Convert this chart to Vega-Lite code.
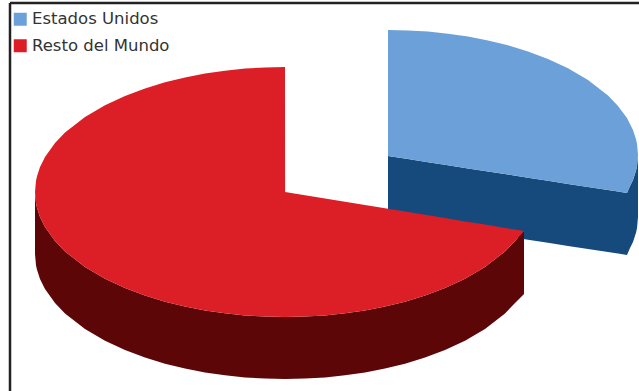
{
  "$schema": "https://vega.github.io/schema/vega-lite/v6.json",
  "width": 639,
  "height": 391,
  "autosize": {"type": "none"},
  "padding": 0,
  "background": "white",
  "view": {"stroke": null},
  "config": {"font": "DejaVu Sans"},
  "encoding": {
    "x": {"field": "x", "type": "quantitative", "axis": null, "scale": {"domain": [0, 639], "nice": false, "zero": false}},
    "y": {"field": "upper", "type": "quantitative", "axis": null, "scale": {"domain": [391, 0], "nice": false, "zero": false}},
    "y2": {"field": "lower"}
  },
  "layer": [
    {
      "name": "us_side",
      "mark": {"type": "area", "fill": "#174A7C"},
      "data": {"values": [
        {"x":388,"upper":156,"lower":218},{"x":408,"upper":159.1,"lower":221.1},{"x":428,"upper":162.2,"lower":224.2},{"x":448,"upper":165.3,"lower":227.3},{"x":468,"upper":168.4,"lower":230.4},{"x":488,"upper":171.5,"lower":233.5},{"x":508,"upper":174.6,"lower":236.6},{"x":528,"upper":177.7,"lower":239.7},{"x":548,"upper":180.8,"lower":242.8},{"x":568,"upper":183.9,"lower":245.9},{"x":588,"upper":187,"lower":249},{"x":608,"upper":190.1,"lower":252.1},{"x":618,"upper":191.6,"lower":253.6},{"x":627,"upper":193,"lower":255},{"x":630,"upper":186,"lower":248},{"x":633,"upper":180,"lower":242},{"x":636,"upper":170.8,"lower":232.8},{"x":637,"upper":166.2,"lower":228.2},{"x":638,"upper":155,"lower":217}
      ]}
    },
    {
      "name": "us_top",
      "mark": {"type": "area"},
      "data": {"values": [
        {"region":"Estados Unidos","x":388,"upper":30,"lower":156},{"region":"Estados Unidos","x":408,"upper":30.4,"lower":159.1},{"region":"Estados Unidos","x":428,"upper":31.6,"lower":162.2},{"region":"Estados Unidos","x":448,"upper":33.7,"lower":165.3},{"region":"Estados Unidos","x":468,"upper":36.6,"lower":168.4},{"region":"Estados Unidos","x":488,"upper":40.4,"lower":171.5},{"region":"Estados Unidos","x":508,"upper":45.3,"lower":174.6},{"region":"Estados Unidos","x":528,"upper":51.4,"lower":177.7},{"region":"Estados Unidos","x":548,"upper":59,"lower":180.8},{"region":"Estados Unidos","x":568,"upper":68.3,"lower":183.9},{"region":"Estados Unidos","x":588,"upper":80,"lower":187},{"region":"Estados Unidos","x":608,"upper":95.6,"lower":190.1},{"region":"Estados Unidos","x":618,"upper":106,"lower":191.6},{"region":"Estados Unidos","x":627,"upper":118,"lower":193},{"region":"Estados Unidos","x":630,"upper":124,"lower":186},{"region":"Estados Unidos","x":633,"upper":130,"lower":180},{"region":"Estados Unidos","x":636,"upper":139.2,"lower":170.8},{"region":"Estados Unidos","x":637,"upper":143.8,"lower":166.2},{"region":"Estados Unidos","x":638,"upper":155,"lower":155}
      ]},
      "encoding": {
        "fill": {
          "field": "region", "type": "nominal",
          "scale": {"domain": ["Estados Unidos", "Resto del Mundo"], "range": ["#6CA0D8", "#DC1F26"]},
          "legend": {
            "orient": "none", "legendX": 12, "legendY": 11, "title": null,
            "symbolType": "square", "symbolSize": 169, "symbolStrokeWidth": 0,
            "labelFontSize": 16.5, "labelColor": "#333333", "labelFont": "DejaVu Sans",
            "labelOffset": 3.5, "rowPadding": 9.5, "labelLimit": 200, "padding": 0
          }
        }
      }
    },
    {
      "name": "world_side",
      "mark": {"type": "area", "fill": "#5C0608"},
      "data": {"values": [
        {"x":35,"upper":192,"lower":254},{"x":36,"upper":203.2,"lower":265.2},{"x":37,"upper":207.8,"lower":269.8},{"x":40,"upper":216.9,"lower":278.9},{"x":45,"upper":227,"lower":289},{"x":55,"upper":241,"lower":303},{"x":65,"upper":251.4,"lower":313.4},{"x":85,"upper":267,"lower":329},{"x":105,"upper":278.7,"lower":340.7},{"x":125,"upper":288,"lower":350},{"x":145,"upper":295.6,"lower":357.6},{"x":165,"upper":301.7,"lower":363.7},{"x":185,"upper":306.6,"lower":368.6},{"x":205,"upper":310.4,"lower":372.4},{"x":225,"upper":313.3,"lower":375.3},{"x":245,"upper":315.4,"lower":377.4},{"x":265,"upper":316.6,"lower":378.6},{"x":285,"upper":317,"lower":379},{"x":305,"upper":316.6,"lower":378.6},{"x":325,"upper":315.4,"lower":377.4},{"x":345,"upper":313.3,"lower":375.3},{"x":365,"upper":310.4,"lower":372.4},{"x":385,"upper":306.6,"lower":368.6},{"x":405,"upper":301.7,"lower":363.7},{"x":425,"upper":295.6,"lower":357.6},{"x":445,"upper":288,"lower":350},{"x":465,"upper":278.7,"lower":340.7},{"x":485,"upper":267,"lower":329},{"x":505,"upper":251.4,"lower":313.4},{"x":515,"upper":241,"lower":303},{"x":524,"upper":231,"lower":294}
      ]}
    },
    {
      "name": "world_top",
      "mark": {"type": "area"},
      "data": {"values": [
        {"region":"Resto del Mundo","x":35,"upper":192,"lower":192},{"region":"Resto del Mundo","x":36,"upper":180.8,"lower":203.2},{"region":"Resto del Mundo","x":37,"upper":176.2,"lower":207.8},{"region":"Resto del Mundo","x":40,"upper":167.1,"lower":216.9},{"region":"Resto del Mundo","x":45,"upper":157,"lower":227},{"region":"Resto del Mundo","x":55,"upper":143,"lower":241},{"region":"Resto del Mundo","x":65,"upper":132.6,"lower":251.4},{"region":"Resto del Mundo","x":85,"upper":117,"lower":267},{"region":"Resto del Mundo","x":105,"upper":105.3,"lower":278.7},{"region":"Resto del Mundo","x":125,"upper":96,"lower":288},{"region":"Resto del Mundo","x":145,"upper":88.4,"lower":295.6},{"region":"Resto del Mundo","x":165,"upper":82.3,"lower":301.7},{"region":"Resto del Mundo","x":185,"upper":77.4,"lower":306.6},{"region":"Resto del Mundo","x":205,"upper":73.6,"lower":310.4},{"region":"Resto del Mundo","x":225,"upper":70.7,"lower":313.3},{"region":"Resto del Mundo","x":245,"upper":68.6,"lower":315.4},{"region":"Resto del Mundo","x":265,"upper":67.4,"lower":316.6},{"region":"Resto del Mundo","x":285,"upper":67,"lower":317},{"region":"Resto del Mundo","x":285.1,"upper":192,"lower":317},{"region":"Resto del Mundo","x":305,"upper":195.3,"lower":316.6},{"region":"Resto del Mundo","x":325,"upper":198.5,"lower":315.4},{"region":"Resto del Mundo","x":345,"upper":201.8,"lower":313.3},{"region":"Resto del Mundo","x":365,"upper":205,"lower":310.4},{"region":"Resto del Mundo","x":385,"upper":208.3,"lower":306.6},{"region":"Resto del Mundo","x":405,"upper":211.6,"lower":301.7},{"region":"Resto del Mundo","x":425,"upper":214.8,"lower":295.6},{"region":"Resto del Mundo","x":445,"upper":218.1,"lower":288},{"region":"Resto del Mundo","x":465,"upper":221.4,"lower":278.7},{"region":"Resto del Mundo","x":485,"upper":224.6,"lower":267},{"region":"Resto del Mundo","x":505,"upper":227.9,"lower":251.4},{"region":"Resto del Mundo","x":515,"upper":229.5,"lower":241},{"region":"Resto del Mundo","x":524,"upper":231,"lower":231}
      ]},
      "encoding": {
        "fill": {"field": "region", "type": "nominal"}
      }
    },
    {
      "name": "frame",
      "mark": {"type": "rule", "stroke": "#222222", "strokeWidth": 2.5},
      "data": {"values": [
        {"x":10,"upper":3,"lower":391,"x2":10},
        {"x":10,"upper":3,"lower":3,"x2":639}
      ]},
      "encoding": {"x2": {"field": "x2"}}
    }
  ]
}
